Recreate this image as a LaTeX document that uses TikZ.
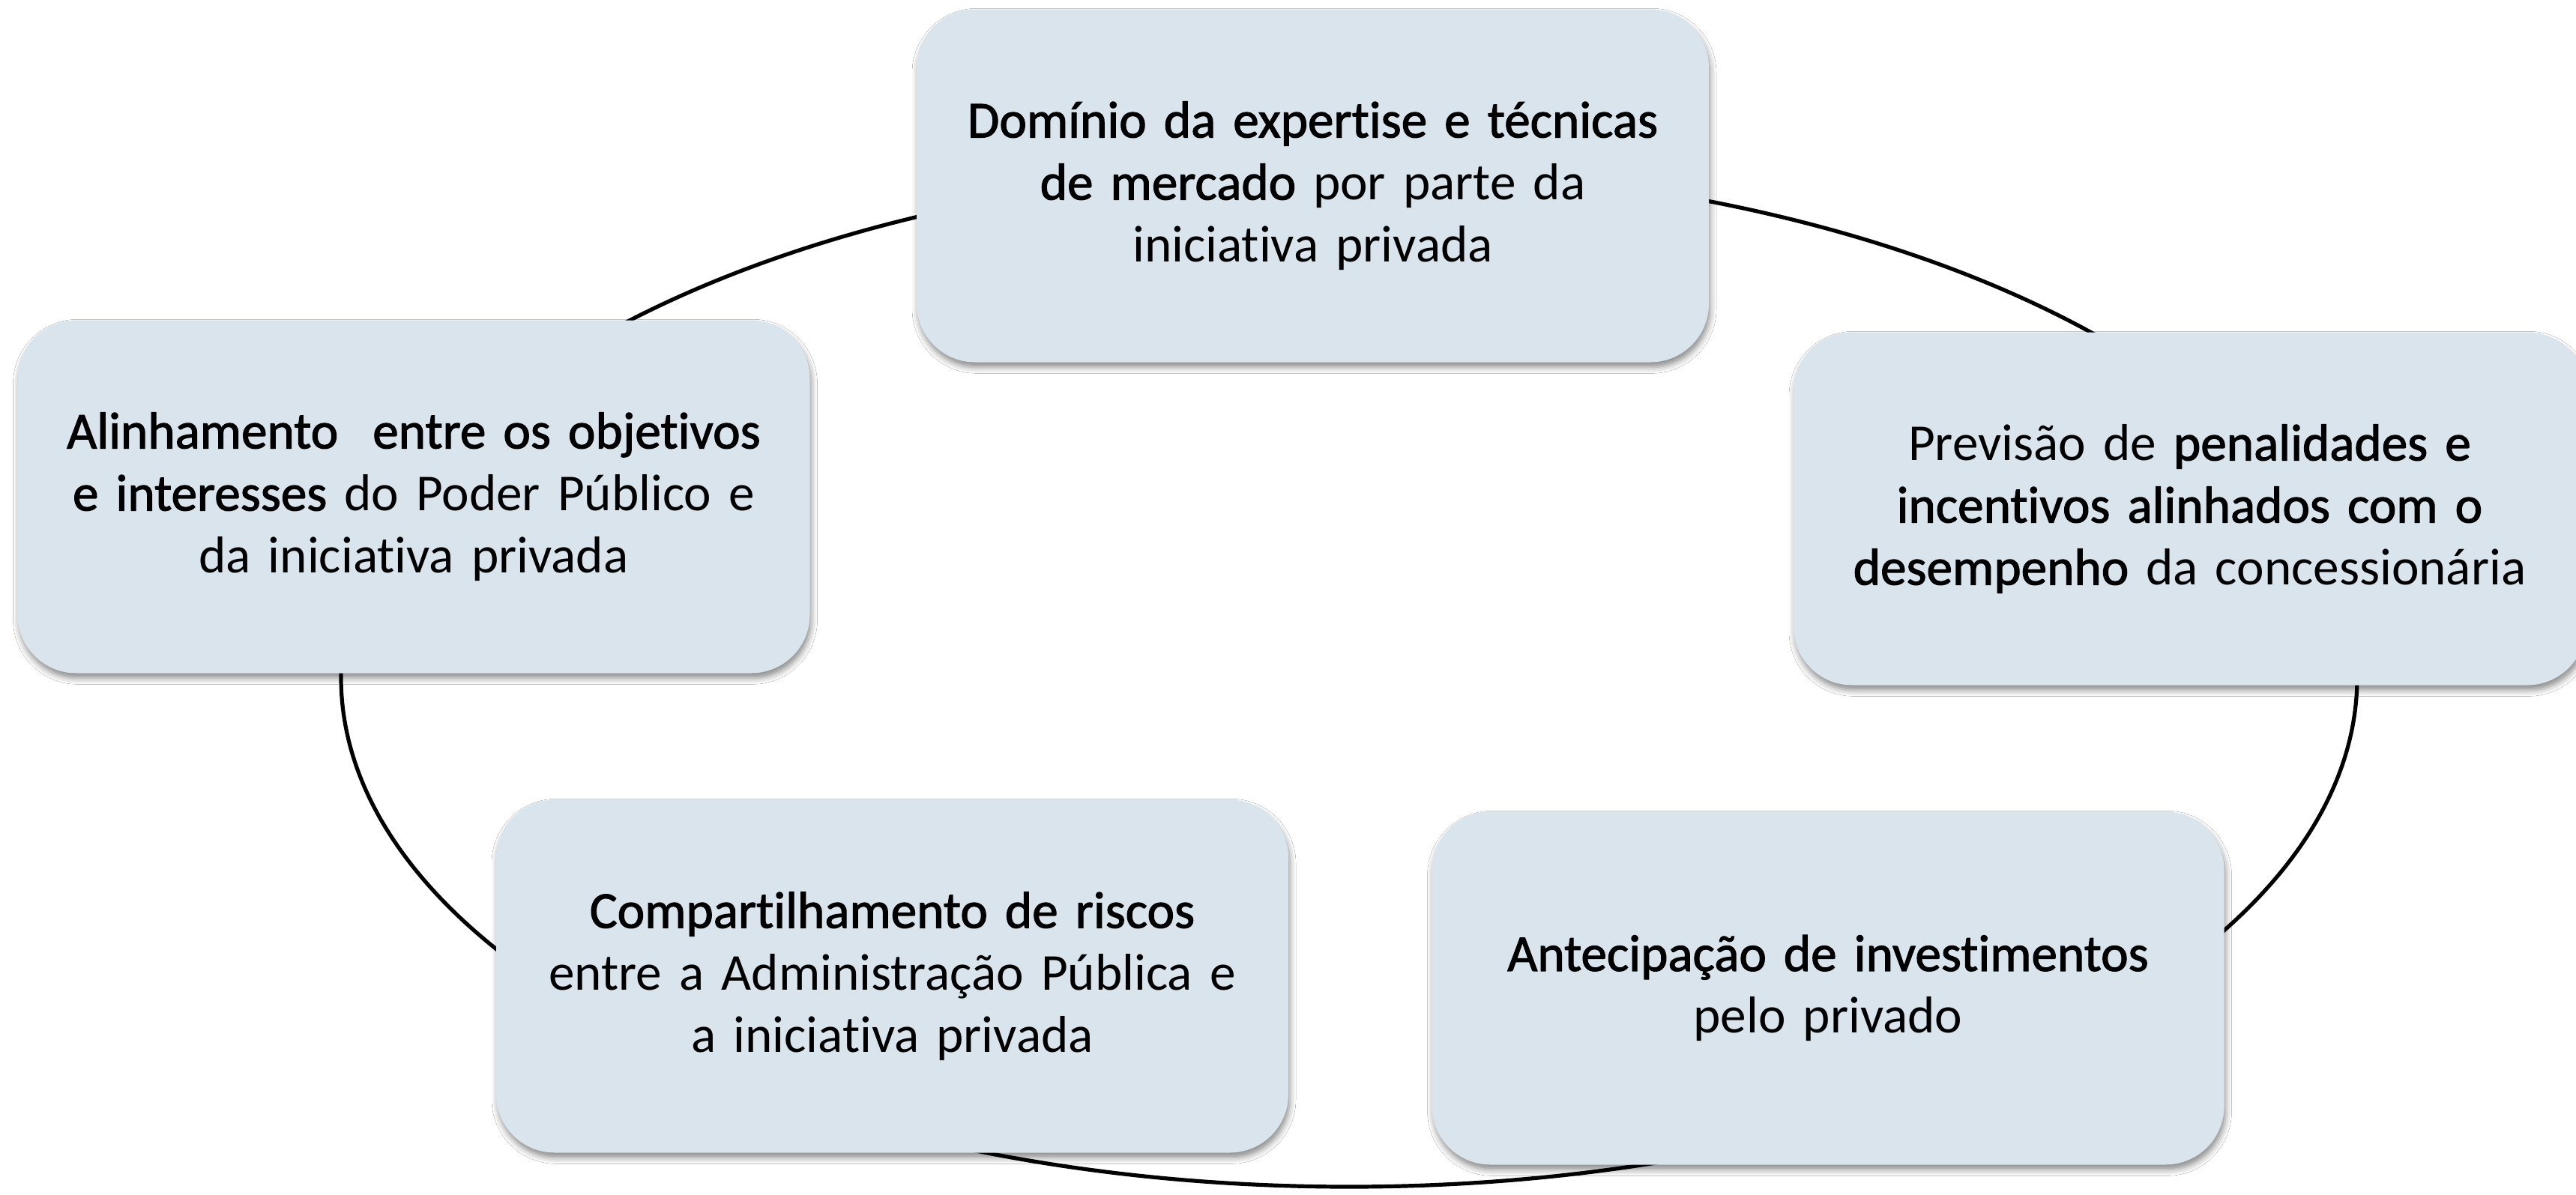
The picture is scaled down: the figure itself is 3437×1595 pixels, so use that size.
\documentclass[tikz,border=0pt]{standalone}
\usepackage{fontspec}
\setmainfont{Carlito}[Ligatures=NoCommon, BoldFont=Carlito, BoldFeatures={FakeBold=1.6}]
\usetikzlibrary{shadows.blur}
\definecolor{boxfill}{HTML}{D9E4ED}
\begin{document}
\begin{tikzpicture}[x=0.25pt,y=-0.25pt,
  card/.style={rectangle, rounded corners=19.5pt, fill=boxfill,
    minimum width=264.25pt, minimum height=117.75pt, align=center,
    text width=255pt, inner sep=0pt,
    font=\fontsize{17.3}{20.75}\selectfont,
    blur shadow={shadow xshift=0.5pt, shadow yshift=-1.7pt, shadow blur radius=2pt, shadow opacity=45}},
  ring/.style={draw=black, line width=1.3pt}]
\useasboundingbox (0,0) rectangle (3437,1595);
\fill[white] (0,0) rectangle (3437,1595);
\draw[ring] (1800,904) ellipse [x radius=336.25pt, y radius=170pt];
\node[card] (dom) at (1751.5,248) {\textbf{Domínio da expertise e técnicas}\\\textbf{de mercado} por parte da\\iniciativa privada};
\node[card] (ali) at (552,663) {\textbf{Alinhamento\ \ entre os objetivos}\\\textbf{e interesses} do Poder Público e\\da iniciativa privada};
\node[card] (pre) at (2921.5,679) {Previsão de \textbf{penalidades e}\\\textbf{incentivos alinhados com o}\\\textbf{desempenho} da concessionária};
\node[card] (com) at (1190.5,1303) {\textbf{Compartilhamento de riscos}\\entre a Administração Pública e\\a iniciativa privada};
\node[card] (ant) at (2439,1319) {\textbf{Antecipação de investimentos}\\pelo privado};
\end{tikzpicture}
\end{document}
